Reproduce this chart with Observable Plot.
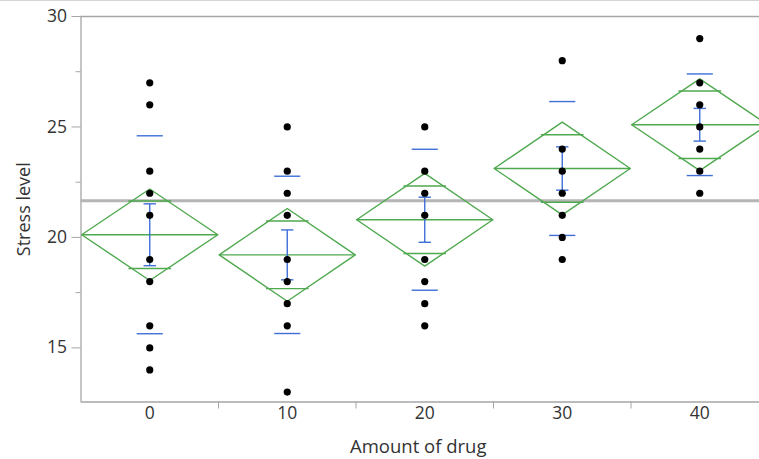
<!DOCTYPE html>
<html>
<head>
<meta charset="utf-8">
<script src="https://cdn.jsdelivr.net/npm/d3@7"></script>
<script src="https://cdn.jsdelivr.net/npm/@observablehq/plot@0.6"></script>
<style>
  html, body { margin: 0; padding: 0; background: white; overflow: hidden; }
  #topline { position: absolute; left: 0; top: 0; width: 759px; height: 1px; background: #d4d4d4; }
</style>
</head>
<body>
<div id="topline"></div>
<div id="chart"></div>
<script>
// Categories (amount of drug)
const groups = [0, 10, 20, 30, 40];
// Observed stress levels per group
const stress0  = [27, 26, 23, 22, 21, 19, 18, 16, 15, 14];
const stress10 = [25, 23, 22, 21, 19, 18, 17, 16, 13];
const stress20 = [25, 23, 22, 21, 19, 18, 17, 16];
const stress30 = [28, 24, 23, 22, 21, 20, 19];
const stress40 = [29, 27, 26, 25, 24, 23, 22];
// Group summary values
const means       = [20.12, 19.21, 20.8, 23.12, 25.1];
const ciHalf      = [2.07, 2.1, 2.1, 2.1, 2.08];
const overlapHalf = [1.53, 1.53, 1.53, 1.53, 1.53];
const stdDev      = [4.48, 3.56, 3.19, 3.03, 2.3];
const stdErr      = [1.4, 1.13, 1.02, 0.98, 0.74];
const grandMean   = 21.66;
// Axis ticks
const yTicks      = [15, 20, 25, 30];
const yMinorTicks = [17.5, 22.5, 27.5];
const xSeparators = [5, 15, 25, 35];

const stressByGroup = [stress0, stress10, stress20, stress30, stress40];
const points = groups.flatMap((g, i) => stressByGroup[i].map(v => ({g, v})));
const rows = groups.map((g, i) => ({
  g, mean: means[i], ci: ciHalf[i], ov: overlapHalf[i], sd: stdDev[i], se: stdErr[i]
}));

const HW = 4.95;   // diamond half width (x units)
const OW = 1.55;   // overlap mark half width
const SDW = 0.95;  // std dev dash half width
const CAP = 0.45;  // std err cap half width

const diamond = rows.flatMap(r => [
  [r.g - HW, r.mean], [r.g, r.mean + r.ci], [r.g + HW, r.mean], [r.g, r.mean - r.ci], [r.g - HW, r.mean]
].map(([x, y]) => ({g: r.g, x, y})));

const green = "#4fa94f";
const blue = "#3f6fd6";
const axisGray = "#a6a6a6";
const textColor = "#333333";
const yMin = 12.55, yMax = 30;

const chart = Plot.plot({
  width: 759,
  height: 459,
  marginLeft: 80.5,
  marginRight: 0,
  marginTop: 16,
  marginBottom: 57.5,
  x: {type: "linear", domain: [-5, 45], range: [80.5, 768], axis: null},
  y: {domain: [yMin, yMax], axis: null},
  style: {fontFamily: "Open Sans", fontSize: "17px", color: textColor, background: "white"},
  marks: [
    // frame lines
    Plot.ruleY([yMax], {stroke: axisGray, strokeWidth: 1.3}),
    Plot.ruleY([yMin], {stroke: axisGray, strokeWidth: 1.3}),
    Plot.ruleX([-5], {stroke: axisGray, strokeWidth: 1.3}),
    // axes
    Plot.axisY(yTicks, {tickSize: 9, tickPadding: 5, stroke: axisGray, fill: textColor, fontSize: 17.5}),
    Plot.axisY(yMinorTicks, {tickSize: 5, tickFormat: () => "", stroke: axisGray}),
    Plot.axisX(groups, {tickSize: 0, tickPadding: 5, fill: textColor, fontSize: 17.5}),
    Plot.axisX(xSeparators, {tickSize: 7, tickFormat: () => "", stroke: axisGray}),
    // axis titles
    Plot.text(["Stress level"], {frameAnchor: "left", textAnchor: "middle", lineAnchor: "middle", rotate: -90, dx: -57, fontSize: 18, fill: textColor}),
    Plot.text(["Amount of drug"], {frameAnchor: "bottom", textAnchor: "middle", dy: 51, dx: -2, fontSize: 18.5, fill: textColor}),
    // grand mean
    Plot.ruleY([grandMean], {stroke: "#b5b5b5", strokeWidth: 3}),
    // means diamonds
    Plot.line(diamond, {x: "x", y: "y", z: "g", stroke: green, strokeWidth: 1.4}),
    Plot.link(rows, {x1: d => d.g - HW, x2: d => d.g + HW, y1: "mean", y2: "mean", stroke: green, strokeWidth: 1.4}),
    Plot.link(rows, {x1: d => d.g - OW, x2: d => d.g + OW, y1: d => d.mean + d.ov, y2: d => d.mean + d.ov, stroke: green, strokeWidth: 1.4}),
    Plot.link(rows, {x1: d => d.g - OW, x2: d => d.g + OW, y1: d => d.mean - d.ov, y2: d => d.mean - d.ov, stroke: green, strokeWidth: 1.4}),
    // std dev lines
    Plot.link(rows, {x1: d => d.g - SDW, x2: d => d.g + SDW, y1: d => d.mean + d.sd, y2: d => d.mean + d.sd, stroke: blue, strokeWidth: 1.4}),
    Plot.link(rows, {x1: d => d.g - SDW, x2: d => d.g + SDW, y1: d => d.mean - d.sd, y2: d => d.mean - d.sd, stroke: blue, strokeWidth: 1.4}),
    // std err bars
    Plot.link(rows, {x1: "g", x2: "g", y1: d => d.mean - d.se, y2: d => d.mean + d.se, stroke: blue, strokeWidth: 1.4}),
    Plot.link(rows, {x1: d => d.g - CAP, x2: d => d.g + CAP, y1: d => d.mean + d.se, y2: d => d.mean + d.se, stroke: blue, strokeWidth: 1.4}),
    Plot.link(rows, {x1: d => d.g - CAP, x2: d => d.g + CAP, y1: d => d.mean - d.se, y2: d => d.mean - d.se, stroke: blue, strokeWidth: 1.4}),
    // observations
    Plot.dot(points, {x: "g", y: "v", r: 3.6, fill: "black", stroke: null})
  ]
});
document.getElementById("chart").appendChild(chart);
</script>
</body>
</html>
